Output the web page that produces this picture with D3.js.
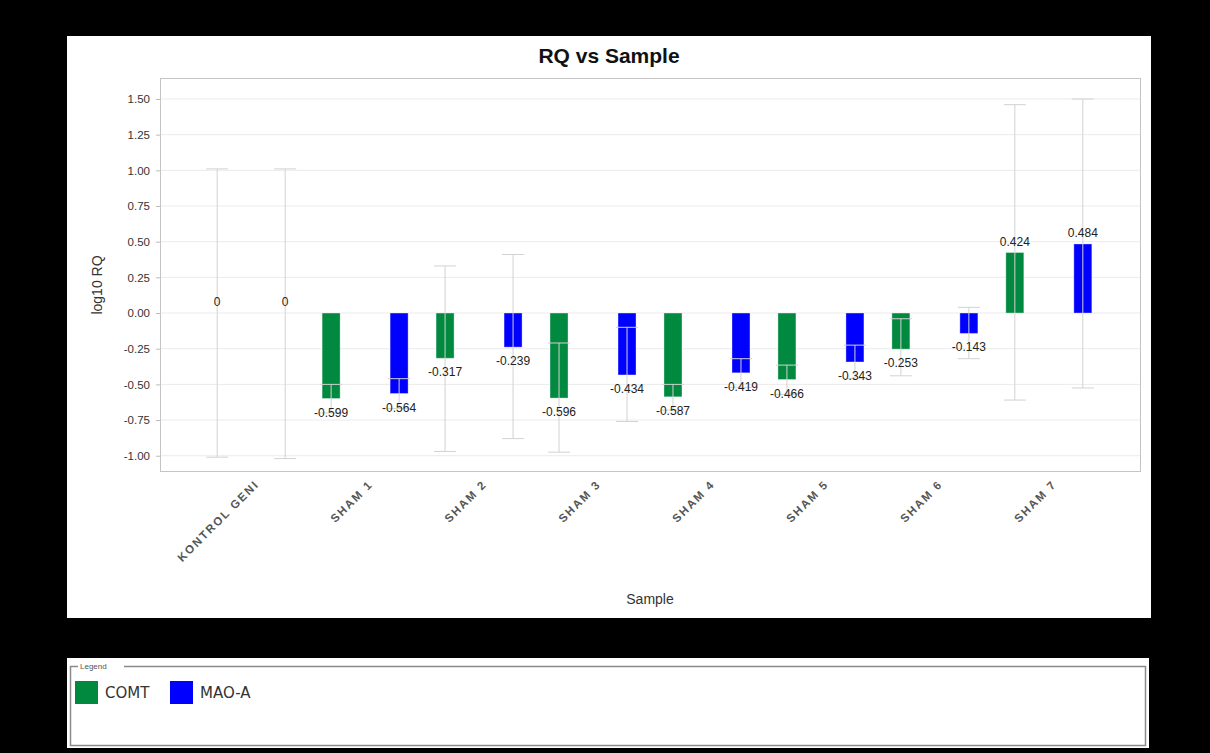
<!DOCTYPE html>
<html>
<head>
<meta charset="utf-8">
<script src="https://cdn.jsdelivr.net/npm/d3@7"></script>
<style>
  body { margin: 0; background: #000; }
  text { font-family: "Liberation Sans", Arial, sans-serif; }
</style>
</head>
<body>
<div id="chart"></div>
<script>
// data
var samples = ["KONTROL GENI", "SHAM 1", "SHAM 2", "SHAM 3", "SHAM 4", "SHAM 5", "SHAM 6", "SHAM 7"];
var seriesNames = ["COMT", "MAO-A"];
var seriesColors = ["#00893f", "#0000ff"];
var comtRQ = [0, -0.599, -0.317, -0.596, -0.587, -0.466, -0.253, 0.424];
var maoaRQ = [0, -0.564, -0.239, -0.434, -0.419, -0.343, -0.143, 0.484];
var comtLow = [-1.01, -0.70, -0.97, -0.975, -0.68, -0.57, -0.44, -0.61];
var comtHigh = [1.01, -0.50, 0.33, -0.21, -0.50, -0.365, -0.04, 1.46];
var maoaLow = [-1.02, -0.67, -0.88, -0.76, -0.52, -0.46, -0.32, -0.525];
var maoaHigh = [1.01, -0.46, 0.41, -0.10, -0.32, -0.225, 0.04, 1.50];
var yTicks = [-1.00, -0.75, -0.50, -0.25, 0.00, 0.25, 0.50, 0.75, 1.00, 1.25, 1.50];

(function() {
    var width = 1210,
        height = 753;

    // plain hyphen instead of d3's unicode minus
    var fmt = function(spec) {
        var f = d3.format(spec);
        return function(v) { return f(v).replace("\u2212", "-"); };
    };

    var svg = d3.select("#chart")
        .append("svg")
        .attr("width", width)
        .attr("height", height);

    svg.append("rect")
        .attr("width", width)
        .attr("height", height)
        .style("fill", "#000");

    // chart panel
    svg.append("rect")
        .attr("x", 67).attr("y", 36)
        .attr("width", 1084).attr("height", 582)
        .style("fill", "#fff");

    var plot = { left: 160, top: 78, right: 1140, bottom: 471 };

    var x0 = d3.scalePoint()
        .domain(samples)
        .range([plot.left, plot.right])
        .padding(0.8);

    var x1 = d3.scalePoint()
        .domain(seriesNames)
        .range([-34, 34]);

    var y = d3.scaleLinear()
        .domain([-1.107, 1.647])
        .range([plot.bottom, plot.top]);

    // grid
    svg.append("g")
        .selectAll("line")
        .data(yTicks)
        .enter()
        .append("line")
        .attr("x1", plot.left)
        .attr("x2", plot.right)
        .attr("y1", function(d) { return y(d); })
        .attr("y2", function(d) { return y(d); })
        .style("stroke", "#ebebeb")
        .style("stroke-width", 1);

    // plot border
    svg.append("rect")
        .attr("x", plot.left + 0.5)
        .attr("y", plot.top + 0.5)
        .attr("width", plot.right - plot.left)
        .attr("height", plot.bottom - plot.top)
        .style("fill", "none")
        .style("stroke", "#c4c4c4");

    // y axis
    var yAxis = svg.append("g")
        .attr("transform", "translate(" + plot.left + ",0)")
        .call(d3.axisLeft(y).tickValues(yTicks).tickSize(4).tickPadding(6)
            .tickFormat(fmt(".2f")));
    yAxis.select(".domain").remove();
    yAxis.selectAll("line").style("stroke", "#bbb");
    yAxis.selectAll("text")
        .style("font-size", "11.5px")
        .style("fill", "#333")
        .style("font-family", "'Liberation Sans', Arial, sans-serif");

    // x axis labels
    var xAxis = svg.append("g")
        .attr("transform", "translate(0," + plot.bottom + ")")
        .call(d3.axisBottom(x0).tickSize(0));
    xAxis.select(".domain").remove();
    xAxis.selectAll("text")
        .attr("text-anchor", "end")
        .attr("transform", "translate(8,14) rotate(-45)")
        .attr("dy", 0)
        .attr("y", 0)
        .style("font-size", "11.5px")
        .style("font-weight", "bold")
        .style("letter-spacing", "1.8px")
        .style("fill", "#555")
        .style("font-family", "'Liberation Sans', Arial, sans-serif");

    // build rows from arrays
    var rows = [];
    samples.forEach(function(s, i) {
        rows.push({ sample: s, series: "COMT", value: comtRQ[i], low: comtLow[i], high: comtHigh[i] });
        rows.push({ sample: s, series: "MAO-A", value: maoaRQ[i], low: maoaLow[i], high: maoaHigh[i] });
    });

    var color = d3.scaleOrdinal().domain(seriesNames).range(seriesColors);
    var barW = 18;
    var cx = function(d) { return x0(d.sample) + x1(d.series); };

    svg.append("g")
        .selectAll("rect")
        .data(rows)
        .enter()
        .append("rect")
        .attr("x", function(d) { return cx(d) - barW / 2; })
        .attr("y", function(d) { return y(Math.max(0, d.value)); })
        .attr("width", barW)
        .attr("height", function(d) { return Math.abs(y(d.value) - y(0)); })
        .style("fill", function(d) { return color(d.series); })
        .style("stroke", "#ffffff")
        .style("stroke-opacity", 0.35)
        .style("stroke-width", 1);

    // error bars
    var err = svg.append("g")
        .selectAll("g")
        .data(rows)
        .enter()
        .append("g")
        .style("stroke", "#d2d2d2")
        .style("stroke-width", 1);

    err.append("line")
        .attr("x1", function(d) { return cx(d); })
        .attr("x2", function(d) { return cx(d); })
        .attr("y1", function(d) { return y(d.low); })
        .attr("y2", function(d) { return y(d.high); });
    err.append("line")
        .attr("x1", function(d) { return cx(d) - 11; })
        .attr("x2", function(d) { return cx(d) + 11; })
        .attr("y1", function(d) { return y(d.low); })
        .attr("y2", function(d) { return y(d.low); });
    err.append("line")
        .attr("x1", function(d) { return cx(d) - 11; })
        .attr("x2", function(d) { return cx(d) + 11; })
        .attr("y1", function(d) { return y(d.high); })
        .attr("y2", function(d) { return y(d.high); });

    // value labels
    var valFmt = fmt(".3f");
    svg.append("g")
        .selectAll("text")
        .data(rows)
        .enter()
        .append("text")
        .attr("x", function(d) { return cx(d); })
        .attr("y", function(d) {
            return d.value < 0 ? y(d.value) + 18 : y(d.value) - 7;
        })
        .attr("text-anchor", "middle")
        .style("font-size", "12px")
        .style("fill", "#222")
        .text(function(d) { return d.value === 0 ? "0" : valFmt(d.value); });

    // titles
    svg.append("text")
        .attr("x", 609)
        .attr("y", 63)
        .attr("text-anchor", "middle")
        .style("font-size", "21px")
        .style("font-weight", "bold")
        .style("fill", "#111")
        .text("RQ vs Sample");

    svg.append("text")
        .attr("x", (plot.left + plot.right) / 2)
        .attr("y", 604)
        .attr("text-anchor", "middle")
        .style("font-size", "14px")
        .style("fill", "#333")
        .text("Sample");

    svg.append("text")
        .attr("transform", "translate(102,285) rotate(-90)")
        .attr("text-anchor", "middle")
        .style("font-size", "14px")
        .style("fill", "#333")
        .text("log10 RQ");

    // legend panel
    svg.append("rect")
        .attr("x", 67).attr("y", 658)
        .attr("width", 1082).attr("height", 90)
        .style("fill", "#fff");
    svg.append("rect")
        .attr("x", 70.5).attr("y", 666.5)
        .attr("width", 1075).attr("height", 79)
        .style("fill", "none")
        .style("stroke", "#8a8a8a")
        .style("stroke-width", 1.5);
    svg.append("rect")
        .attr("x", 78).attr("y", 661)
        .attr("width", 46).attr("height", 10)
        .style("fill", "#fff");
    svg.append("text")
        .attr("x", 80).attr("y", 669)
        .style("font-size", "8px")
        .style("fill", "#555")
        .text("Legend");

    var legend = svg.append("g")
        .selectAll("g")
        .data(seriesNames)
        .enter()
        .append("g")
        .attr("transform", function(d, i) { return "translate(" + (75 + i * 95) + ",681)"; });
    legend.append("rect")
        .attr("width", 23)
        .attr("height", 23)
        .style("fill", function(d) { return color(d); });
    legend.append("text")
        .attr("x", 30)
        .attr("y", 17)
        .style("font-size", "15px")
        .style("font-family", "'DejaVu Sans', sans-serif")
        .style("fill", "#333")
        .text(function(d) { return d; });
})();
</script>
</body>
</html>
